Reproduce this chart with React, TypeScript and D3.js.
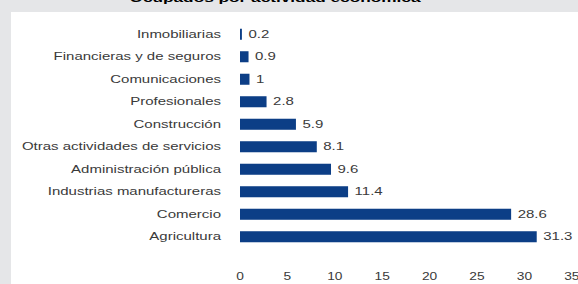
import { useEffect, useRef } from "react";
import * as d3 from "d3";

const categories = [
  "Inmobiliarias",
  "Financieras y de seguros",
  "Comunicaciones",
  "Profesionales",
  "Construcción",
  "Otras actividades de servicios",
  "Administración pública",
  "Industrias manufactureras",
  "Comercio",
  "Agricultura",
];
const values = [0.2, 0.9, 1, 2.8, 5.9, 8.1, 9.6, 11.4, 28.6, 31.3];
const xTicks = [0, 5, 10, 15, 20, 25, 30, 35];
const title = "Ocupados por actividad económica";

const W = 578;
const H = 284;

export default function App() {
  const ref = useRef<SVGSVGElement | null>(null);

  useEffect(() => {
    const el = ref.current;
    if (!el) return;
    const svg = d3.select(el);
    svg.selectAll("*").remove();

    const font = "'Liberation Sans', Arial, sans-serif";
    const textCol = "#3a3a3a";

    // background + white panel
    svg.append("rect").attr("width", W).attr("height", H).attr("fill", "#e5e6e8");
    svg.append("rect").attr("x", 11).attr("y", 12).attr("width", W - 11).attr("height", H - 12).attr("fill", "#ffffff");

    // title, cut off by the top edge as in the source
    svg
      .append("text")
      .attr("transform", `translate(275,1.5) scale(1.5,1)`)
      .attr("text-anchor", "middle")
      .attr("font-family", font)
      .attr("font-weight", "bold")
      .attr("font-size", 11.5)
      .attr("fill", "#000")
      .text(title);

    const x = d3.scaleLinear().domain([0, 35]).range([240, 240 + 35 * 9.48]);
    const y = d3
      .scaleBand<string>()
      .domain(categories)
      .range([23, 248])
      .paddingInner(0.51)
      .paddingOuter(0.255);

    const rows = svg
      .append("g")
      .selectAll("g.row")
      .data(categories.map((c, i) => ({ c, v: values[i] })))
      .join("g")
      .attr("class", "row");

    rows
      .append("rect")
      .attr("x", x(0))
      .attr("y", (d) => y(d.c)!)
      .attr("width", (d) => x(d.v) - x(0))
      .attr("height", y.bandwidth())
      .attr("fill", "#0c3e86");

    rows
      .append("text")
      .attr("transform", (d) => `translate(221,${y(d.c)! + y.bandwidth() / 2 + 3.6}) scale(1.5,1)`)
      .attr("text-anchor", "end")
      .attr("font-family", font)
      .attr("font-size", 10)
      .attr("fill", textCol)
      .text((d) => d.c);

    rows
      .append("text")
      .attr("transform", (d) => `translate(${x(d.v) + 6.5},${y(d.c)! + y.bandwidth() / 2 + 3.6}) scale(1.5,1)`)
      .attr("font-family", font)
      .attr("font-size", 10)
      .attr("fill", textCol)
      .text((d) => String(d.v));

    // x tick labels
    svg
      .append("g")
      .selectAll("text")
      .data(xTicks)
      .join("text")
      .attr("transform", (d) => `translate(${x(d)},280) scale(1.25,1)`)
      .attr("text-anchor", "middle")
      .attr("font-family", font)
      .attr("font-size", 11)
      .attr("fill", textCol)
      .text((d) => String(d));
  }, []);

  return (
    <svg
      ref={ref}
      width={W}
      height={H}
      style={{ position: "absolute", left: 0, top: 0, display: "block" }}
    />
  );
}
